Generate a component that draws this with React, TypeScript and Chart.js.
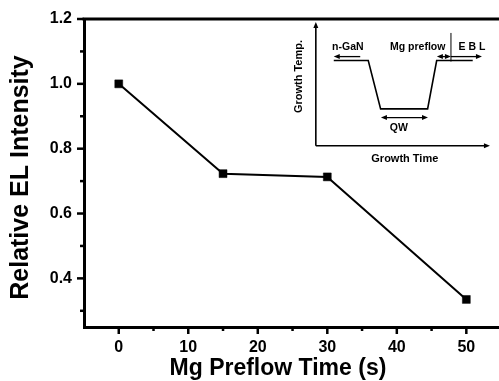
import React, { useEffect, useRef } from 'react';
import { Chart, registerables } from 'chart.js';

Chart.register(...registerables);

// Main data
const preflowTimes = [0, 15, 30, 50];
const relIntensity = [1.0, 0.723, 0.713, 0.335];

// Axis ticks
const xMajorTicks = [0, 10, 20, 30, 40, 50];
const xMinorTicks = [5, 15, 25, 35, 45];
const yMajorTicks = [0.4, 0.6, 0.8, 1.0, 1.2];
const yMinorTicks = [0.3, 0.5, 0.7, 0.9, 1.1];

// Axis titles
const xTitle = 'Mg Preflow Time (s)';
const yTitle = 'Relative EL Intensity';

// Inset placement in main data coordinates
const insetXRange = [28.35, 53.4];
const insetYRange = [0.809, 1.191];

// Inset schematic in local units (0..1 inside inset axes)
const profileU = [0.103, 0.301, 0.372, 0.642, 0.694, 0.901];
const profileV = [0.688, 0.688, 0.298, 0.298, 0.688, 0.688];
const insetLabels = ['n-GaN', 'Mg preflow', 'E B L', 'QW'];
const insetLabelU = [0.184, 0.585, 0.897, 0.477];
const insetLabelV = [0.8, 0.8, 0.8, 0.143];
const insetAxisTitles = ['Growth Time', 'Growth Temp.'];

const FONT = '"Liberation Sans", Arial, Helvetica, sans-serif';

function arrowHead(ctx: CanvasRenderingContext2D, x: number, y: number, dir: number) {
  ctx.beginPath();
  if (dir === 2) {
    ctx.moveTo(x, y);
    ctx.lineTo(x - 2.5, y + 6);
    ctx.lineTo(x + 2.5, y + 6);
  } else {
    ctx.moveTo(x, y);
    ctx.lineTo(x - dir * 6, y - 2.5);
    ctx.lineTo(x - dir * 6, y + 2.5);
  }
  ctx.closePath();
  ctx.fill();
}

const framePlugin = {
  id: 'framePlugin',
  afterDraw(chart: any) {
    const { ctx, chartArea: a, scales } = chart;
    const x = scales.x;
    const y = scales.y;
    ctx.save();
    ctx.strokeStyle = '#000';
    ctx.fillStyle = '#000';
    ctx.lineCap = 'butt';

    // top frame line
    ctx.lineWidth = 3;
    ctx.beginPath();
    ctx.moveTo(a.left - 1.5, a.top);
    ctx.lineTo(a.right, a.top);
    ctx.stroke();

    // ticks
    ctx.lineWidth = 2.5;
    const seg = (x1: number, y1: number, x2: number, y2: number) => {
      ctx.beginPath();
      ctx.moveTo(x1, y1);
      ctx.lineTo(x2, y2);
      ctx.stroke();
    };
    yMajorTicks.forEach((v) => {
      const py = y.getPixelForValue(v);
      seg(a.left - 7, py, a.left, py);
    });
    yMinorTicks.forEach((v) => {
      const py = y.getPixelForValue(v);
      seg(a.left - 4, py, a.left, py);
    });
    xMajorTicks.forEach((v) => {
      const px = x.getPixelForValue(v);
      seg(px, a.bottom, px, a.bottom + 7);
    });
    xMinorTicks.forEach((v) => {
      const px = x.getPixelForValue(v);
      seg(px, a.bottom, px, a.bottom + 4);
    });

    // axis titles
    ctx.textAlign = 'center';
    ctx.textBaseline = 'alphabetic';
    ctx.font = `bold 23px ${FONT}`;
    ctx.fillText(xTitle, x.getPixelForValue(22.9), a.bottom + 48);
    ctx.save();
    ctx.font = `bold 25px ${FONT}`;
    ctx.translate(28, (a.top + a.bottom) / 2 + 4.5);
    ctx.rotate(-Math.PI / 2);
    ctx.fillText(yTitle, 0, 0);
    ctx.restore();

    // inset
    const X = (u: number) => x.getPixelForValue(insetXRange[0] + u * (insetXRange[1] - insetXRange[0]));
    const Y = (v: number) => y.getPixelForValue(insetYRange[0] + v * (insetYRange[1] - insetYRange[0]));

    ctx.lineWidth = 1.6;
    seg(X(0), Y(0), X(0), Y(1) + 4);
    arrowHead(ctx, X(0), Y(1), 2);
    seg(X(0), Y(0), X(1) - 4, Y(0));
    arrowHead(ctx, X(1), Y(0), 1);

    ctx.beginPath();
    profileU.forEach((u, i) => {
      if (i === 0) ctx.moveTo(X(u), Y(profileV[i]));
      else ctx.lineTo(X(u), Y(profileV[i]));
    });
    ctx.stroke();

    const vArr = 0.72;
    ctx.lineWidth = 1.3;
    seg(X(0.255), Y(vArr), X(0.103) + 4, Y(vArr));
    arrowHead(ctx, X(0.103), Y(vArr), -1);
    seg(X(0.695) + 3, Y(vArr), X(0.776) - 3, Y(vArr));
    arrowHead(ctx, X(0.695), Y(vArr), -1);
    arrowHead(ctx, X(0.776), Y(vArr), 1);
    seg(X(0.776), Y(vArr), X(0.954) - 4, Y(vArr));
    arrowHead(ctx, X(0.954), Y(vArr), 1);
    ctx.lineWidth = 1;
    seg(X(0.776), Y(0.911), X(0.776), Y(0.68));
    ctx.lineWidth = 1.3;
    seg(X(0.374) + 4, Y(0.228), X(0.644) - 4, Y(0.228));
    arrowHead(ctx, X(0.374), Y(0.228), -1);
    arrowHead(ctx, X(0.644), Y(0.228), 1);

    ctx.font = `bold 10.5px ${FONT}`;
    ctx.textAlign = 'center';
    ctx.textBaseline = 'middle';
    insetLabels.forEach((t, i) => {
      ctx.fillText(t, X(insetLabelU[i]), Y(insetLabelV[i]));
    });
    ctx.font = `bold 11px ${FONT}`;
    ctx.fillText(insetAxisTitles[0], X(0.511), Y(-0.107));
    ctx.save();
    ctx.translate(X(-0.096), Y(0.559));
    ctx.rotate(-Math.PI / 2);
    ctx.fillText(insetAxisTitles[1], 0, 0);
    ctx.restore();

    ctx.restore();
  },
};

export default function App() {
  const canvasRef = useRef<HTMLCanvasElement | null>(null);

  useEffect(() => {
    const canvas = canvasRef.current;
    if (!canvas) return;
    const chart = new Chart(canvas, {
      type: 'line',
      data: {
        datasets: [
          {
            data: preflowTimes.map((t, i) => ({ x: t, y: relIntensity[i] })),
            borderColor: '#000',
            borderWidth: 2,
            backgroundColor: '#000',
            pointStyle: 'rect',
            pointRadius: 5.6,
            pointBorderWidth: 0.5,
            pointBorderColor: '#000',
            pointBackgroundColor: '#000',
            tension: 0,
            clip: false as any,
          },
        ],
      },
      options: {
        responsive: false,
        animation: false,
        layout: { autoPadding: false, padding: { top: 19, right: 0, left: 0, bottom: 0 } },
        plugins: {
          legend: { display: false },
          tooltip: { enabled: false },
        },
        scales: {
          x: {
            type: 'linear',
            min: -5,
            max: 54.7,
            afterBuildTicks: (s: any) => {
              s.ticks = xMajorTicks.map((v) => ({ value: v }));
            },
            afterFit: (s: any) => {
              s.height = 54;
              s.paddingLeft = 0;
              s.paddingRight = 0;
            },
            border: { display: true, color: '#000', width: 3 },
            grid: { display: true, drawOnChartArea: false, drawTicks: false },
            ticks: {
              color: '#000',
              padding: 11,
              maxRotation: 0,
              autoSkip: false,
              font: { family: FONT, size: 16, weight: 'bold' },
              callback: (v: any) => String(v),
            },
            title: { display: false },
          },
          y: {
            type: 'linear',
            min: 0.25,
            max: 1.2,
            afterBuildTicks: (s: any) => {
              s.ticks = yMajorTicks.map((v) => ({ value: v }));
            },
            afterFit: (s: any) => {
              s.width = 84;
              s.paddingTop = 0;
              s.paddingBottom = 0;
            },
            border: { display: true, color: '#000', width: 3 },
            grid: { display: true, drawOnChartArea: false, drawTicks: false },
            ticks: {
              color: '#000',
              padding: 12,
              autoSkip: false,
              font: { family: FONT, size: 16, weight: 'bold' },
              callback: (v: any) => Number(v).toFixed(1),
            },
            title: { display: false },
          },
        },
      },
      plugins: [framePlugin],
    });
    return () => chart.destroy();
  }, []);

  return (
    <div style={{ position: 'absolute', left: 0, top: 0, width: 499, height: 381, background: '#fff' }}>
      <canvas ref={canvasRef} width={499} height={381} style={{ display: 'block' }} />
    </div>
  );
}
